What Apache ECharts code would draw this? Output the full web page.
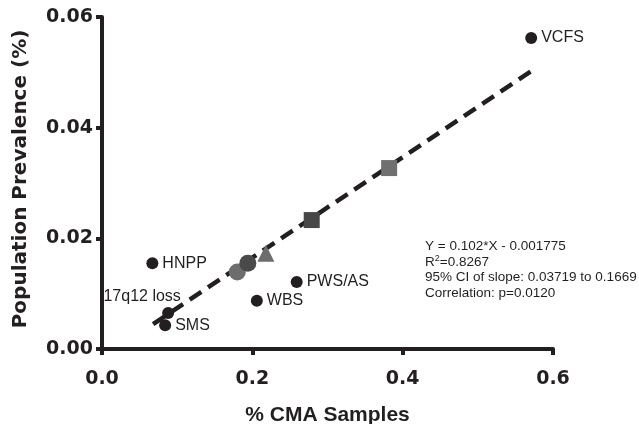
<!DOCTYPE html>
<html>
<head>
<meta charset="utf-8">
<script src="https://cdn.jsdelivr.net/npm/echarts@6/dist/echarts.min.js"></script>
<style>
  html, body { margin: 0; padding: 0; background: #fff; }
  #chart { width: 639px; height: 424px; }
</style>
</head>
<body>
<div id="chart"></div>
<script>
// labelled syndromes (black dots)
const syndromeNames = ['VCFS', 'HNPP', 'PWS/AS', 'WBS', '17q12 loss', 'SMS']
const syndromeX = [0.571, 0.067, 0.259, 0.206, 0.088, 0.084]
const syndromeY = [0.0562, 0.0155, 0.0121, 0.0087, 0.0065, 0.0043]

// unlabelled grey markers
const greyCircle = [0.180, 0.0139]
const darkCircle = [0.194, 0.0155]
const triangle = [0.218, 0.0173]
const darkSquare = [0.279, 0.0233]
const greySquare = [0.382, 0.0327]

// regression line ends
const fitX = [0.068, 0.571]
const fitY = [0.0045, 0.0502]

const xTicks = { min: 0, max: 0.6, step: 0.2 }
const yTicks = { min: 0, max: 0.06, step: 0.02 }

const statLines = [
  'Y = 0.102*X - 0.001775',
  'R{sup|2}=0.8267',
  '95% CI of slope: 0.03719 to 0.1669',
  'Correlation: p=0.0120'
]

const ink = '#231f20'
const font = 'Liberation Sans, Arial, sans-serif'
const wide = 'DejaVu Sans, sans-serif'

const chart = echarts.init(document.getElementById('chart'))

const labelRight = { show: true, position: 'right', distance: 4, color: ink, fontSize: 16, fontFamily: font }
const labelSpecial = {
  '17q12 loss': { position: 'top', offset: [-26, 2] }
}

const option = {
  animation: false,
  backgroundColor: '#fff',
  grid: { left: 102, right: 86, top: 17, bottom: 75, containLabel: false, outerBoundsMode: 'none' },
  xAxis: {
    type: 'value',
    min: xTicks.min,
    max: xTicks.max,
    interval: xTicks.step,
    name: '% CMA Samples',
    nameLocation: 'middle',
    nameGap: 56,
    nameTextStyle: { color: ink, fontSize: 21, fontWeight: 'bold', fontFamily: font },
    splitLine: { show: false },
    axisLine: { lineStyle: { color: ink, width: 4 } },
    axisTick: { length: 6, lineStyle: { color: ink, width: 4 } },
    axisLabel: {
      color: ink, fontSize: 19, fontWeight: 'bold', fontFamily: wide, margin: 21,
      formatter: v => v.toFixed(1)
    }
  },
  yAxis: {
    type: 'value',
    min: yTicks.min,
    max: yTicks.max,
    interval: yTicks.step,
    name: 'Population Prevalence (%)',
    nameLocation: 'middle',
    nameGap: 71,
    nameTextStyle: { color: ink, fontSize: 20, fontWeight: 'bold', fontFamily: wide, padding: [0, 0, 0, 8] },
    splitLine: { show: false },
    axisLine: { lineStyle: { color: ink, width: 4 } },
    axisTick: { length: 6, lineStyle: { color: ink, width: 4 } },
    axisLabel: {
      color: ink, fontSize: 19, fontWeight: 'bold', fontFamily: wide, margin: 9,
      padding: [4, 0, 0, 0],
      formatter: v => v.toFixed(2)
    }
  },
  series: [
    {
      type: 'line',
      data: fitX.map((x, i) => [x, fitY[i]]),
      symbol: 'none',
      lineStyle: { color: ink, width: 4.5, type: [14, 8] },
      z: 1
    },
    {
      type: 'scatter',
      symbol: 'circle',
      symbolSize: 12,
      itemStyle: { color: ink, opacity: 1 },
      data: syndromeNames.map((n, i) => ({
        name: n,
        value: [syndromeX[i], syndromeY[i]],
        label: Object.assign({}, labelRight, labelSpecial[n] || {}, { formatter: n })
      })),
      z: 3
    },
    {
      type: 'scatter', symbol: 'circle', symbolSize: 17,
      itemStyle: { color: '#6d6d6d', opacity: 1 },
      data: [greyCircle], z: 3
    },
    {
      type: 'scatter', symbol: 'circle', symbolSize: 17,
      itemStyle: { color: '#4a4a4a', opacity: 1 },
      data: [darkCircle], z: 4
    },
    {
      type: 'scatter', symbol: 'triangle', symbolSize: 17,
      itemStyle: { color: '#6d6d6d', opacity: 1 },
      data: [triangle], z: 3
    },
    {
      type: 'scatter', symbol: 'rect', symbolSize: 16,
      itemStyle: { color: '#474747', opacity: 1 },
      data: [darkSquare], z: 3
    },
    {
      type: 'scatter', symbol: 'rect', symbolSize: 16,
      itemStyle: { color: '#707070', opacity: 1 },
      data: [greySquare], z: 3
    }
  ],
  graphic: [{
    type: 'text',
    left: 425,
    top: 239,
    style: {
      text: statLines.join('\n'),
      fill: ink,
      font: '13.5px ' + font,
      lineHeight: 15.5,
      rich: {
        sup: { fontSize: 9, verticalAlign: 'top', padding: [0, 0, 7, 0], fill: ink }
      }
    }
  }]
}

chart.setOption(option)
</script>
</body>
</html>
